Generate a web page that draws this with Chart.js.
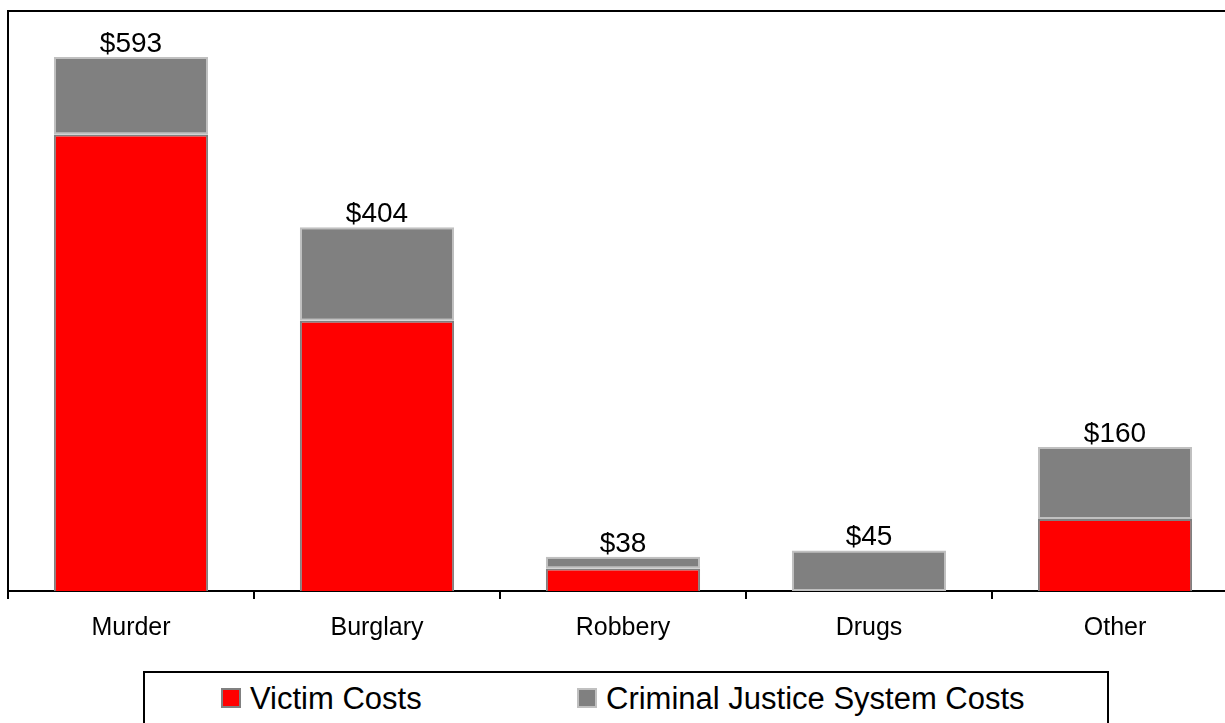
<!DOCTYPE html>
<html>
<head>
<meta charset="utf-8">
<script src="https://cdn.jsdelivr.net/npm/chart.js@4.4.0/dist/chart.umd.min.js"></script>
<style>
  html, body { margin: 0; padding: 0; background: #fff; overflow: hidden; }
  body { width: 1225px; height: 723px; position: relative; font-family: 'Liberation Sans', Arial, sans-serif; }
  #chart { position: absolute; left: 0; top: 0; }
  #legend { position: absolute; left: 143px; top: 671px; width: 962px; height: 70px; border: 2px solid #000; }
  .item { position: absolute; top: 0; height: 50px; font-size: 31px; line-height: 52px; color: #000; white-space: nowrap; }
  .swatch { position: absolute; top: 15px; width: 16px; height: 16px; border: 2px solid; }
  .label { position: absolute; top: 0; }
</style>
</head>
<body>
<canvas id="chart" width="1250" height="660"></canvas>
<div id="legend"></div>
<script>
// data (values in $, stacked)
const categories = ['Murder', 'Burglary', 'Robbery', 'Drugs', 'Other'];
const victimCosts = [507, 300, 25, 0, 80];
const justiceCosts = [86, 104, 13, 45, 80];
const totals = [593, 404, 38, 45, 160];
const seriesNames = ['Victim Costs', 'Criminal Justice System Costs'];

const FONT = "'Liberation Sans', Arial, sans-serif";

// frame around the plot area
const framePlugin = {
    id: 'frame',
    afterDraw(chart) {
        const { ctx, chartArea: a } = chart;
        ctx.save();
        ctx.strokeStyle = '#000';
        ctx.lineWidth = 2;
        ctx.beginPath();
        ctx.moveTo(a.left, a.bottom);
        ctx.lineTo(a.left, a.top);
        ctx.lineTo(a.right, a.top);
        ctx.lineTo(a.right, a.bottom);
        ctx.stroke();
        ctx.restore();
    }
};

// "$593" style totals above each stack
const totalsPlugin = {
    id: 'totals',
    afterDatasetsDraw(chart) {
        const { ctx } = chart;
        const x = chart.scales.x, y = chart.scales.y;
        ctx.save();
        ctx.font = '28px ' + FONT;
        ctx.fillStyle = '#000';
        ctx.textAlign = 'center';
        ctx.textBaseline = 'alphabetic';
        totals.forEach((t, i) => {
            ctx.fillText('$' + t, x.getPixelForValue(i), y.getPixelForValue(t) - 5);
        });
        ctx.restore();
    }
};

new Chart(document.getElementById('chart').getContext('2d'), {
    type: 'bar',
    data: {
        labels: categories,
        datasets: [
            {
                label: seriesNames[0],
                data: victimCosts,
                backgroundColor: '#ff0000',
                borderColor: '#808080',
                borderWidth: 2,
                borderSkipped: 'start',
                categoryPercentage: 1,
                barPercentage: 0.627
            },
            {
                label: seriesNames[1],
                data: justiceCosts,
                backgroundColor: '#808080',
                borderColor: '#c0c0c0',
                borderWidth: 2,
                borderSkipped: false,
                categoryPercentage: 1,
                barPercentage: 0.627
            }
        ]
    },
    options: {
        responsive: false,
        animation: false,
        layout: { padding: { left: 8, right: 12, top: 11, bottom: 0 } },
        plugins: {
            legend: { display: false },
            tooltip: { enabled: false }
        },
        scales: {
            x: {
                stacked: true,
                grid: { display: true, drawOnChartArea: false, drawTicks: true, tickLength: 8, color: '#000', lineWidth: 2 },
                border: { display: true, color: '#000', width: 2 },
                ticks: { color: '#000', font: { family: FONT, size: 25 }, padding: 14, maxRotation: 0 },
                afterFit(scale) { scale.height = 69; }
            },
            y: {
                stacked: true,
                min: 0,
                max: 644,
                grid: { display: false },
                border: { display: true, color: '#000', width: 2 },
                ticks: { display: false },
                afterFit(scale) { scale.width = 0; }
            }
        }
    },
    plugins: [framePlugin, totalsPlugin]
});

// legend box under the chart
const legend = document.getElementById('legend');
const swatchFill = ['#ff0000', '#808080'];
const swatchEdge = ['#808080', '#c0c0c0'];
const itemLeft = [76, 432];
seriesNames.forEach((name, i) => {
    const item = document.createElement('div');
    item.className = 'item';
    item.style.left = itemLeft[i] + 'px';
    item.innerHTML = '<span class="swatch" style="left:0;background:' + swatchFill[i] +
        ';border-color:' + swatchEdge[i] + '"></span><span class="label" style="left:29px">' + name + '</span>';
    legend.appendChild(item);
});
</script>
</body>
</html>
